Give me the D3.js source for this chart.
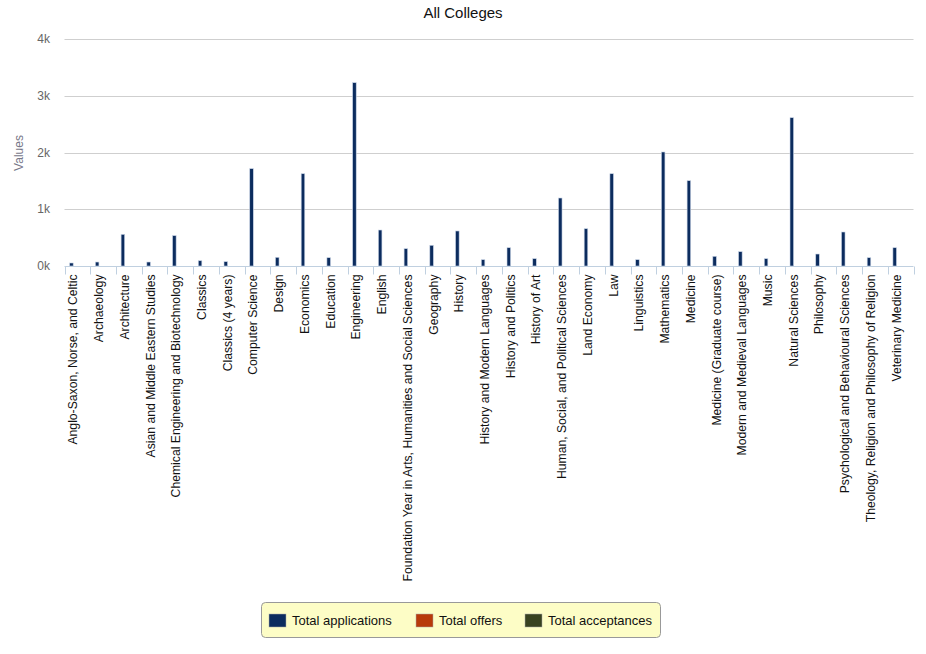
<!DOCTYPE html>
<html><head><meta charset="utf-8">
<script src="https://cdn.jsdelivr.net/npm/d3@7/dist/d3.min.js"></script>
<style>
body{margin:0;background:#fff;font-family:"Liberation Sans",Arial,sans-serif;}
</style></head>
<body><svg id="c" width="926" height="654"></svg>
<script>
const categories = ["Anglo-Saxon, Norse, and Celtic","Archaeology","Architecture","Asian and Middle Eastern Studies","Chemical Engineering and Biotechnology","Classics","Classics (4 years)","Computer Science","Design","Economics","Education","Engineering","English","Foundation Year in Arts, Humanities and Social Sciences","Geography","History","History and Modern Languages","History and Politics","History of Art","Human, Social, and Political Sciences","Land Economy","Law","Linguistics","Mathematics","Medicine","Medicine (Graduate course)","Modern and Medieval Languages","Music","Natural Sciences","Philosophy","Psychological and Behavioural Sciences","Theology, Religion and Philosophy of Religion","Veterinary Medicine"];
const totalApplications = [53,70,558,70,535,93,76,1715,153,1626,146,3230,634,305,365,617,111,322,129,1198,657,1626,111,2009,1503,171,252,129,2613,211,599,146,322];
const totalOffers = categories.map(()=>0);
const totalAcceptances = categories.map(()=>0);
const seriesNames = ["Total applications","Total offers","Total acceptances"];
const seriesColors = ["#0c2c5e","#b83a0a","#384220"];
const yTicks = [0,1000,2000,3000,4000];
const yTickLabels = ["0k","1k","2k","3k","4k"];

const svg = d3.select("#c");
const x0 = 64.5, x1 = 913.5, yTop = 39, yBot = 266;
const x = d3.scaleBand().domain(categories).range([x0,x1]).padding(0);
const xs = d3.scaleBand().domain(seriesNames).range([x.bandwidth()*0.2, x.bandwidth()*0.8]).paddingInner(0.4).paddingOuter(0);
const y = d3.scaleLinear().domain([0,4000]).range([yBot,yTop]);

svg.append("text").attr("x",463).attr("y",18).attr("text-anchor","middle")
  .attr("font-size",15).attr("fill","#111").text("All Colleges");

// grid
svg.append("g").selectAll("line").data(yTicks.filter(d=>d>0)).join("line")
  .attr("x1",x0).attr("x2",x1).attr("y1",d=>Math.round(y(d))+0.5).attr("y2",d=>Math.round(y(d))+0.5)
  .attr("stroke","#cfcfcf").attr("stroke-width",1);

// y labels
svg.append("g").selectAll("text").data(yTicks).join("text")
  .attr("x",50).attr("y",d=>y(d)+4).attr("text-anchor","end")
  .attr("font-size",12).attr("fill","#666").text((d,i)=>yTickLabels[i]);
svg.append("text").attr("transform","translate(23,153) rotate(-90)").attr("text-anchor","middle")
  .attr("font-size",12).attr("fill","#778").text("Values");

// bars
const series = [totalApplications,totalOffers,totalAcceptances];
const g = svg.append("g");
categories.forEach((c,i)=>{
  series.forEach((s,j)=>{
    const v = s[i];
    if(v<=0) return;
    g.append("rect").attr("x",x(c)+xs(seriesNames[j])).attr("width",xs.bandwidth())
      .attr("y",y(v)).attr("height",y(0)-y(v))
      .attr("fill",seriesColors[j]).attr("stroke","#c8d4e6").attr("stroke-width",0.6);
  });
});

// x axis
const xa = svg.append("g").attr("transform",`translate(0,${yBot+0.5})`);
xa.append("line").attr("x1",x0).attr("x2",x1).attr("stroke","#c0d0e0");
xa.selectAll("line.t").data(categories.concat([null])).join("line").attr("class","t")
  .attr("x1",(d,i)=>Math.round(x0+i*x.step())+0.5).attr("x2",(d,i)=>Math.round(x0+i*x.step())+0.5)
  .attr("y1",0).attr("y2",8).attr("stroke","#c0d0e0");
xa.selectAll("text").data(categories).join("text")
  .attr("transform",d=>`translate(${x(d)+x.bandwidth()/2},8) rotate(-90)`)
  .attr("text-anchor","end").attr("font-size",12.2).attr("fill","#111").text(d=>d);

// legend
const lg = svg.append("g");
lg.append("rect").attr("x",261.5).attr("y",602.5).attr("width",399).attr("height",35).attr("rx",4)
  .attr("fill","#fdfdc6").attr("stroke","#999");
const lx = [269,416,525];
seriesNames.forEach((n,j)=>{
  lg.append("rect").attr("x",lx[j]).attr("y",614).attr("width",17).attr("height",13)
    .attr("fill",seriesColors[j]).attr("stroke","#aaa").attr("stroke-width",0.5);
  lg.append("text").attr("x",lx[j]+23).attr("y",625).attr("font-size",13).attr("fill","#111").text(n);
});
</script></body></html>
